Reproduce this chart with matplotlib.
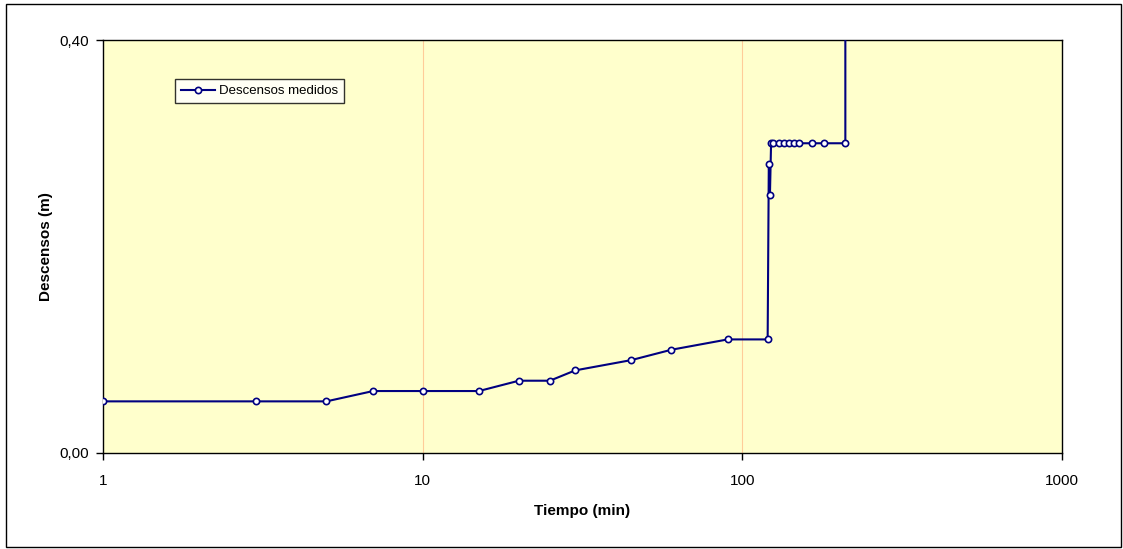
import matplotlib
matplotlib.use("Agg")
from matplotlib import pyplot as plt
from matplotlib.patches import Rectangle
from matplotlib.ticker import FixedLocator, NullLocator

plt.rcParams['font.family'] = ['Liberation Sans Narrow', 'Liberation Sans', 'DejaVu Sans']

tiempo = [1, 3, 5, 7, 10, 15, 20, 25, 30, 45, 60, 90, 120, 121, 122,
          123, 125, 130, 135, 140, 145, 150, 165, 180, 210, 210]
descensos = [0.05, 0.05, 0.05, 0.06, 0.06, 0.06, 0.07, 0.07, 0.08, 0.09, 0.10, 0.11, 0.11, 0.28, 0.25,
             0.30, 0.30, 0.30, 0.30, 0.30, 0.30, 0.30, 0.30, 0.30, 0.30, 0.60]

x_ticks = [1, 10, 100, 1000]
x_labels = ["1", "10", "100", "1000"]
y_ticks = [0.0, 0.4]
y_labels = ["0,00", "0,40"]

fig = plt.figure(figsize=(11.23, 5.49), dpi=100)
fig.patches.append(Rectangle((0.0053, 0.0036), 0.9929, 0.989, transform=fig.transFigure,
                             fill=False, edgecolor="black", linewidth=1))
ax = fig.add_axes([0.0917, 0.1749, 0.8540, 0.7522])
ax.set_facecolor("#FFFFCC")

ax.set_xscale("log")
ax.set_xlim(1, 1000)
ax.set_ylim(0, 0.4)

for g in [10, 100]:
    ax.axvline(g, color="#FFCC99", linewidth=0.8, zorder=1)

ax.plot(tiempo, descensos, color="#000080", linewidth=1.5, marker="o", markersize=4.5,
        markerfacecolor="white", markeredgecolor="#000080", markeredgewidth=1.2,
        label="Descensos medidos", zorder=3, clip_on=True)

ax.xaxis.set_major_locator(FixedLocator(x_ticks))
ax.xaxis.set_minor_locator(NullLocator())
ax.set_xticklabels(x_labels)
ax.yaxis.set_major_locator(FixedLocator(y_ticks))
ax.set_yticklabels(y_labels)
ax.tick_params(axis="both", labelsize=11, length=5, width=1, direction="out", color="black")
ax.tick_params(axis="x", pad=10)
ax.tick_params(axis="y", pad=5)

ax.set_xlabel("Tiempo (min)", fontsize=11, fontweight="bold", labelpad=12)
ax.set_ylabel("Descensos (m)", fontsize=11, fontweight="bold", labelpad=5)

for s in ax.spines.values():
    s.set_color("black")
    s.set_linewidth(1)

leg = ax.legend(loc="upper left", bbox_to_anchor=(0.075, 0.905), fontsize=9.5, frameon=True,
                fancybox=False, edgecolor="black", borderpad=0.45, handlelength=2.6,
                handletextpad=0.3, borderaxespad=0)
leg.get_frame().set_linewidth(1)
leg.get_frame().set_facecolor("white")

fig.savefig("out.png", dpi=100)
